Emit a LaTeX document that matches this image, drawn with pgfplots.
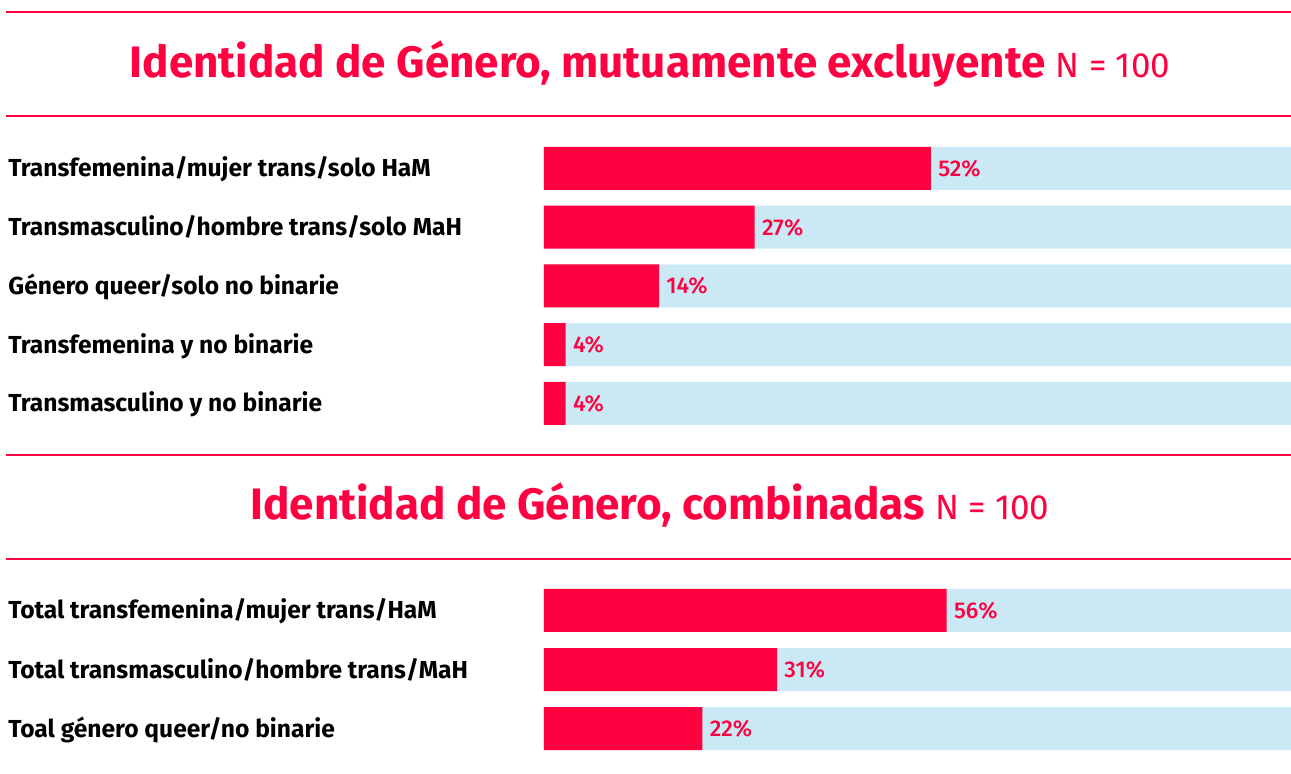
\documentclass[border=0pt]{standalone}
\usepackage{fontspec}
\setmainfont{Fira Sans}
\newfontfamily\medfont{Fira Sans Medium}
\usepackage{pgfplots}
\pgfplotsset{compat=1.18}
\definecolor{accent}{HTML}{FF0040}
\definecolor{track}{HTML}{CAE9F4}

% shared look of both bar panels (1 px of the reference = 0.5pt)
\pgfplotsset{
  panel/.style={
    scale only axis, width=373.5pt, anchor=south west,
    xmin=0, xmax=100, enlargelimits=false, clip=false,
    y dir=reverse, axis line style={draw=none}, major tick style={draw=none},
    xtick=\empty, ytick=data,
    yticklabel style={anchor=west, inner sep=0pt, xshift=-268pt,
      font=\fontsize{12.3pt}{14pt}\selectfont\bfseries, text height=10pt, text depth=1.5pt},
  },
  track/.style={xbar, bar width=21.5pt, bar shift=0pt, fill=track, draw=none},
  value/.style={xbar, bar width=21.5pt, bar shift=0pt, fill=accent, draw=none,
    point meta=explicit symbolic,
    nodes near coords={\pgfplotspointmeta\%},
    nodes near coords style={anchor=west, inner sep=0pt, xshift=3.5pt, text=accent,
      font=\fontsize{11.4pt}{13pt}\selectfont\medfont, text height=8pt, text depth=0pt}},
}

\begin{document}
\begin{tikzpicture}
\useasboundingbox (0,0) rectangle (645.5pt,-387pt);

% rules and titles
\foreach \yy in {6,58,227.5,279.5}
  \draw[accent, line width=1pt] (3pt,-\yy pt) -- (645.5pt,-\yy pt);
\node[anchor=base, text=accent, inner sep=0pt] at (325pt,-39pt)
  {\fontsize{22pt}{24pt}\selectfont\bfseries Identidad de Género, mutuamente excluyente
   \fontsize{17.5pt}{19pt}\selectfont\mdseries N = 100};
\node[anchor=base, text=accent, inner sep=0pt] at (325pt,-260pt)
  {\fontsize{22pt}{24pt}\selectfont\bfseries Identidad de Género, combinadas
   \fontsize{17.5pt}{19pt}\selectfont\mdseries N = 100};

% panel 1: bar lengths as drawn, labels as printed
\begin{axis}[panel, at={(272pt,-212.5pt)}, height=139pt,
  ymin=-0.366, ymax=4.366,
  yticklabels={Transfemenina/mujer trans/solo HaM,
    Transmasculino/hombre trans/solo MaH,
    Género queer/solo no binarie,
    Transfemenina y no binarie,
    Transmasculino y no binarie}]
\addplot[track] coordinates {(100,0) (100,1) (100,2) (100,3) (100,4)};
\addplot[value] coordinates {(51.8,0) [52] (28.2,1) [27] (15.4,2) [14] (2.9,3) [4] (2.9,4) [4]};
\end{axis}

% panel 2
\begin{axis}[panel, at={(272pt,-375pt)}, height=80.5pt,
  ymin=-0.364, ymax=2.364,
  yticklabels={Total transfemenina/mujer trans/HaM,
    Total transmasculino/hombre trans/MaH,
    Toal género queer/no binarie}]
\addplot[track] coordinates {(100,0) (100,1) (100,2)};
\addplot[value] coordinates {(53.9,0) [56] (31.2,1) [31] (21.2,2) [22]};
\end{axis}
\end{tikzpicture}
\end{document}
